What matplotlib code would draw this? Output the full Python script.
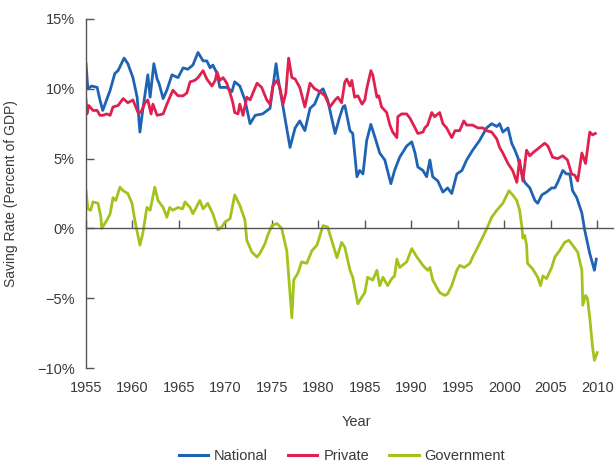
import numpy as np
import matplotlib.pyplot as plt

# =========================
# DATA (percent of GDP)
# =========================
nat_year = [1955.0, 1955.2, 1955.6, 1956.2, 1956.5, 1956.8, 1957.6, 1958.1, 1958.45, 1959.1,
            1959.5, 1960.05, 1960.5, 1960.8, 1961.1, 1961.65, 1961.9, 1962.3, 1962.65, 1962.85,
            1963.3, 1963.7, 1964.25, 1964.9, 1965.45, 1965.95, 1966.5, 1967.05, 1967.6, 1968.0,
            1968.35, 1968.65, 1969.1, 1969.4, 1970.15, 1970.7, 1971.0, 1971.55, 1972.1, 1972.65,
            1973.2, 1974.0, 1974.8, 1975.45, 1975.65, 1976.2, 1976.95, 1977.5, 1978.0, 1978.55,
            1979.1, 1979.6, 1980.15, 1980.5, 1981.0, 1981.8, 1982.3, 1982.65, 1982.85, 1983.4,
            1983.7, 1984.15, 1984.45, 1984.8, 1985.2, 1985.65, 1986.1, 1986.6, 1987.15, 1987.8,
            1988.2, 1988.75, 1989.5, 1990.05, 1990.4, 1990.7, 1991.25, 1991.65, 1992.0, 1992.3,
            1992.85, 1993.4, 1993.9, 1994.35, 1994.9, 1995.45, 1995.95, 1996.6, 1997.35, 1998.1,
            1998.65, 1999.2, 1999.5, 1999.85, 2000.4, 2000.8, 2001.15, 2001.45, 2001.9, 2002.2,
            2002.75, 2003.3, 2003.6, 2004.05, 2004.55, 2005.1, 2005.45, 2005.75, 2006.3, 2006.7,
            2007.05, 2007.35, 2007.8, 2008.35, 2008.65, 2009.2, 2009.7, 2009.9]
national = [11.8, 10.0, 10.2, 10.1, 9.2, 8.45, 9.9, 11.1, 11.3, 12.2,
            11.8, 10.8, 9.4, 6.9, 8.45, 11.0, 9.4, 11.8, 10.7, 10.4,
            9.3, 9.9, 11.0, 10.8, 11.5, 11.4, 11.7, 12.6, 12.0, 12.0,
            11.5, 11.7, 11.1, 10.1, 10.1, 9.8, 10.5, 10.2, 9.2, 7.5,
            8.1, 8.2, 8.6, 11.8, 10.8, 8.7, 5.8, 7.2, 7.7, 7.0,
            8.6, 8.9, 9.8, 10.0, 9.2, 6.8, 8.0, 8.7, 8.8, 7.0,
            6.8, 3.7, 4.15, 3.9, 6.3, 7.45, 6.5, 5.4, 4.9, 3.2,
            4.15, 5.1, 5.9, 6.2, 5.4, 4.4, 4.15, 3.7, 4.9, 3.7,
            3.4, 2.6, 2.9, 2.5, 3.9, 4.15, 4.9, 5.6, 6.3, 7.2,
            7.5, 7.3, 7.5, 6.9, 7.2, 6.1, 5.6, 5.1, 3.9, 3.3,
            2.9, 2.0, 1.8, 2.4, 2.6, 2.9, 2.9, 3.3, 4.15, 3.9,
            3.9, 2.7, 2.2, 1.1, -0.1, -1.8, -3.0, -2.2]

priv_year = [1955.0, 1955.1, 1955.3, 1955.75, 1956.2, 1956.5, 1956.8, 1957.25, 1957.6, 1957.9,
             1958.45, 1959.0, 1959.5, 1960.05, 1960.6, 1960.9, 1961.35, 1961.65, 1962.0, 1962.2,
             1962.65, 1963.3, 1963.7, 1964.35, 1964.9, 1965.45, 1965.85, 1966.2, 1966.7, 1967.05,
             1967.6, 1968.0, 1968.55, 1968.9, 1969.1, 1969.4, 1969.75, 1970.15, 1970.5, 1970.8,
             1971.0, 1971.35, 1971.55, 1971.9, 1972.3, 1972.65, 1973.4, 1973.9, 1974.45, 1974.8,
             1975.1, 1975.55, 1975.85, 1976.2, 1976.5, 1976.8, 1977.15, 1977.5, 1978.0, 1978.55,
             1979.1, 1979.6, 1980.15, 1980.7, 1981.25, 1981.8, 1982.1, 1982.5, 1982.85, 1983.05,
             1983.4, 1983.6, 1983.9, 1984.25, 1984.7, 1985.0, 1985.2, 1985.65, 1985.85, 1986.3,
             1986.5, 1986.8, 1987.35, 1987.7, 1988.0, 1988.45, 1988.55, 1988.95, 1989.5, 1989.85,
             1990.4, 1990.7, 1991.25, 1991.45, 1991.75, 1992.2, 1992.5, 1993.05, 1993.4, 1993.8,
             1994.35, 1994.7, 1995.2, 1995.65, 1995.95, 1996.6, 1997.15, 1997.7, 1998.1, 1998.65,
             1999.2, 1999.5, 1999.85, 2000.4, 2000.9, 2001.35, 2001.65, 2002.0, 2002.4, 2002.75,
             2003.05, 2003.8, 2004.35, 2004.7, 2005.2, 2005.75, 2006.3, 2006.8, 2007.25, 2007.6,
             2007.9, 2008.35, 2008.75, 2009.2, 2009.5, 2009.8]
private = [9.2, 8.2, 8.8, 8.45, 8.45, 8.1, 8.1, 8.2, 8.1, 8.7,
           8.8, 9.3, 9.0, 9.2, 8.3, 8.3, 9.0, 9.2, 8.2, 8.9,
           8.1, 8.2, 8.9, 9.9, 9.5, 9.5, 9.7, 10.5, 10.6, 10.8,
           11.3, 10.7, 10.2, 10.6, 11.2, 10.6, 10.8, 10.4, 9.7, 9.0,
           8.3, 8.2, 8.9, 8.1, 9.4, 9.2, 10.4, 10.1, 9.2, 8.9,
           10.2, 10.6, 10.1, 8.9, 9.7, 12.2, 10.8, 10.7, 10.1, 8.7,
           10.4, 10.0, 9.8, 9.5, 8.7, 9.2, 9.4, 9.0, 10.5, 10.7,
           10.2, 10.6, 9.4, 9.5, 8.9, 9.2, 10.0, 11.3, 11.0, 9.4,
           9.5, 8.7, 8.3, 7.4, 6.9, 6.5, 8.0, 8.2, 8.2, 7.9,
           7.2, 6.8, 6.9, 7.2, 7.4, 8.3, 8.0, 8.3, 7.5, 7.2,
           6.5, 7.0, 7.0, 7.7, 7.4, 7.4, 7.2, 7.2, 7.0, 6.9,
           6.4, 5.8, 5.4, 4.65, 4.15, 3.3, 4.9, 3.4, 5.6, 5.2,
           5.4, 5.8, 6.1, 5.9, 5.1, 5.0, 5.2, 4.9, 3.9, 3.8,
           3.4, 5.4, 4.65, 6.9, 6.7, 6.8]

gov_year = [1955.0, 1955.2, 1955.5, 1955.75, 1956.3, 1956.6, 1956.7, 1957.25, 1957.6, 1957.9,
            1958.2, 1958.65, 1959.0, 1959.5, 1959.95, 1960.25, 1960.8, 1961.1, 1961.55, 1961.9,
            1962.4, 1962.75, 1963.3, 1963.7, 1964.0, 1964.35, 1964.9, 1965.4, 1965.65, 1966.2,
            1966.5, 1967.25, 1967.6, 1968.1, 1968.65, 1969.2, 1969.6, 1969.95, 1970.5, 1971.0,
            1971.55, 1972.1, 1972.3, 1972.85, 1973.4, 1973.7, 1974.25, 1974.55, 1975.0, 1975.55,
            1976.05, 1976.6, 1977.15, 1977.35, 1977.8, 1978.2, 1978.75, 1979.3, 1979.85, 1980.5,
            1981.0, 1981.55, 1982.0, 1982.5, 1982.85, 1983.4, 1983.7, 1984.25, 1984.7, 1985.0,
            1985.3, 1985.85, 1986.3, 1986.6, 1986.95, 1987.45, 1987.9, 1988.2, 1988.45, 1988.75,
            1989.5, 1990.05, 1990.6, 1991.25, 1991.75, 1992.0, 1992.3, 1993.05, 1993.6, 1993.9,
            1994.35, 1994.9, 1995.2, 1995.7, 1996.3, 1996.6, 1997.15, 1997.7, 1998.2, 1998.65,
            1999.2, 1999.85, 2000.5, 2000.9, 2001.35, 2001.65, 2001.9, 2002.0, 2002.2, 2002.4,
            2002.5, 2003.05, 2003.6, 2003.9, 2004.15, 2004.55, 2005.1, 2005.45, 2005.95, 2006.5,
            2006.95, 2007.35, 2007.9, 2008.35, 2008.45, 2008.75, 2008.95, 2009.2, 2009.5, 2009.7,
            2010.0]
government = [2.7, 1.4, 1.3, 1.9, 1.8, 0.8, 0.0, 0.6, 1.05, 2.2,
              2.0, 2.95, 2.7, 2.5, 1.8, 0.6, -1.2, -0.4, 1.5, 1.3,
              2.95, 2.0, 1.5, 0.8, 1.5, 1.3, 1.5, 1.4, 1.9, 1.5,
              1.05, 2.0, 1.4, 1.8, 1.05, -0.1, 0.1, 0.45, 0.7, 2.4,
              1.65, 0.6, -0.85, -1.7, -2.05, -1.8, -1.1, -0.5, 0.2, 0.35,
              0.0, -1.6, -6.4, -3.7, -3.2, -2.4, -2.5, -1.6, -1.2, 0.2,
              0.1, -1.1, -2.1, -1.0, -1.35, -3.0, -3.5, -5.4, -4.9, -4.6,
              -3.5, -3.7, -3.0, -4.1, -3.5, -4.1, -3.6, -3.4, -2.2, -2.8,
              -2.4, -1.45, -2.05, -2.65, -3.0, -2.8, -3.7, -4.6, -4.8, -4.7,
              -4.1, -3.0, -2.65, -2.8, -2.5, -2.05, -1.35, -0.6, 0.1, 0.8,
              1.3, 1.8, 2.7, 2.4, 2.0, 1.3, 0.1, -0.7, -0.5, -1.2,
              -2.5, -2.9, -3.5, -4.1, -3.4, -3.6, -2.8, -2.05, -1.6, -1.0,
              -0.85, -1.2, -1.7, -3.0, -5.5, -4.8, -5.0, -6.4, -8.5, -9.45,
              -8.9]

x_ticks = [1955, 1960, 1965, 1970, 1975, 1980, 1985, 1990, 1995, 2000, 2005, 2010]
y_ticks = [-10, -5, 0, 5, 10, 15]
y_tick_labels = ["\u221210%", "\u22125%", "0%", "5%", "10%", "15%"]

# =========================
# STYLE
# =========================
plt.rcParams['font.family'] = ['Liberation Sans', 'DejaVu Sans']
text_col = "#3a3a3a"
axis_col = "#555555"
c_nat = "#1f63b5"
c_priv = "#e0204f"
c_gov = "#a2c31c"
lw = 2.0

fig = plt.figure(figsize=(6.16, 4.63), dpi=100)
ax = fig.add_axes([86 / 616, 1 - 368 / 463, (613 - 86) / 616, (368 - 19) / 463])

ax.plot(nat_year, national, color=c_nat, lw=lw, label="National", solid_joinstyle="round")
ax.plot(priv_year, private, color=c_priv, lw=lw, label="Private", solid_joinstyle="round")
ax.plot(gov_year, government, color=c_gov, lw=lw, label="Government", solid_joinstyle="round")

ax.set_xlim(1955, 2011.7)
ax.set_ylim(-10, 15)

# spines: left axis plus the zero line with upward ticks
for s in ["top", "right"]:
    ax.spines[s].set_visible(False)
ax.spines["left"].set_color(axis_col)
ax.spines["left"].set_linewidth(1.0)
ax.spines["bottom"].set_position(("data", 0))
ax.spines["bottom"].set_color(axis_col)
ax.spines["bottom"].set_linewidth(1.0)

ax.set_yticks(y_ticks)
ax.set_yticklabels(y_tick_labels)
ax.tick_params(axis="y", direction="in", length=6, width=1, color=axis_col,
               labelsize=10.5, labelcolor=text_col, pad=8)

ax.set_xticks(x_ticks)
ax.tick_params(axis="x", direction="in", length=6, width=1, color=axis_col,
               labelbottom=False)

# year labels below the plot area
sec = ax.secondary_xaxis("bottom")
sec.set_xticks(x_ticks)
sec.set_xticklabels([str(y) for y in x_ticks])
sec.spines["bottom"].set_visible(False)
sec.tick_params(axis="x", length=0, labelsize=10.5, labelcolor=text_col, pad=9)

ax.set_ylabel("Saving Rate (Percent of GDP)", fontsize=10, color=text_col, labelpad=14)
ax.yaxis.set_label_coords(-(86 - 18) / (613 - 86), 0.5)

fig.text(356 / 616, 1 - 422 / 463, "Year", ha="center", va="center",
         fontsize=10.5, color=text_col)

leg = fig.legend(loc="center", bbox_to_anchor=(342 / 616, 1 - 456 / 463), ncol=3,
                 frameon=False, fontsize=10.5, handlelength=2.0, handletextpad=0.4,
                 columnspacing=1.4)
for t in leg.get_texts():
    t.set_color(text_col)
for h in leg.get_lines():
    h.set_linewidth(2.2)

fig.savefig("out.png", dpi=100)
plt.close(fig)
